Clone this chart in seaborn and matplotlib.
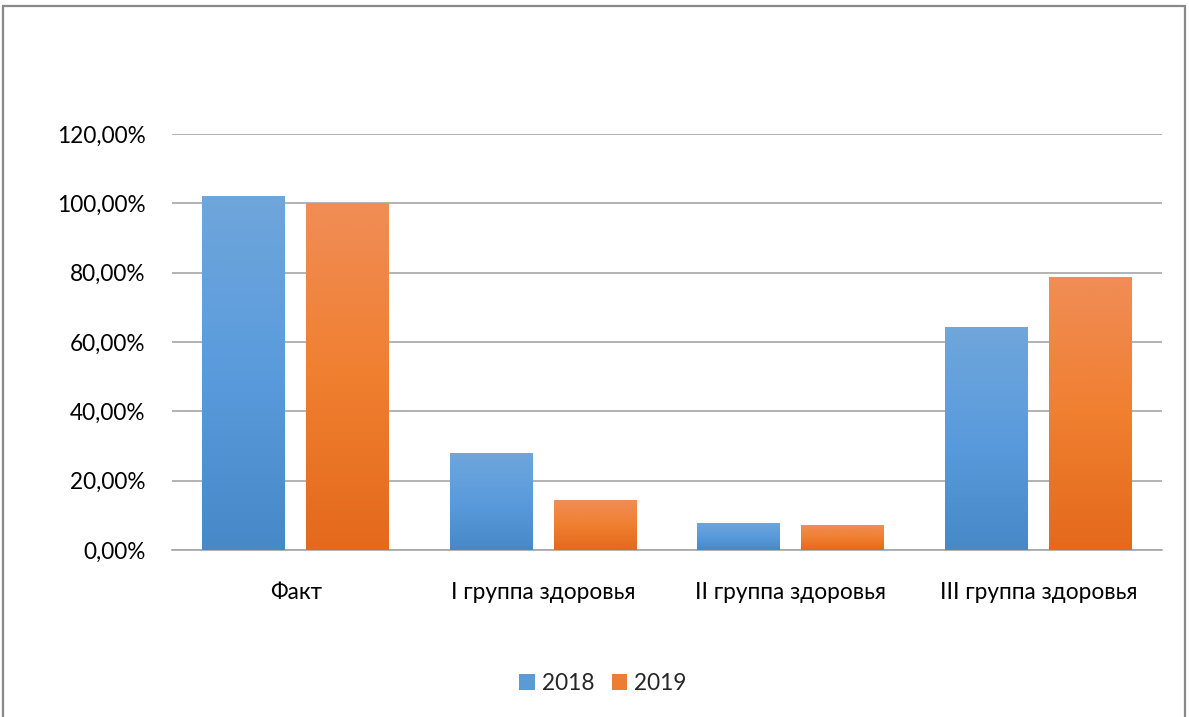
import numpy as np
import pandas as pd
import matplotlib
matplotlib.use("Agg")
import matplotlib.pyplot as plt
import seaborn as sns
from matplotlib.patches import Rectangle
from matplotlib.colors import LinearSegmentedColormap

categories = ["Факт", "I группа здоровья", "II группа здоровья", "III группа здоровья"]
years = ["2018", "2019"]
values_2018 = [102.0, 28.0, 7.8, 64.3]
values_2019 = [100.0, 14.4, 7.2, 78.7]
yticks = [0, 20, 40, 60, 80, 100, 120]
ytick_labels = ["0,00%", "20,00%", "40,00%", "60,00%", "80,00%", "100,00%", "120,00%"]

df = pd.DataFrame({
    "cat": categories * 2,
    "year": [years[0]] * 4 + [years[1]] * 4,
    "val": values_2018 + values_2019,
})

sns.set_theme(style="white")
plt.rcParams["font.family"] = ["Lato", "DejaVu Sans"]

fig = plt.figure(figsize=(11.89, 7.17), dpi=100)
ax = fig.add_axes([172 / 1189, 1 - 550 / 717, 990 / 1189, (550 - 134) / 717])

palette = {"2018": "#5B9BD5", "2019": "#ED7D31"}
sns.barplot(data=df, x="cat", y="val", hue="year", order=categories, hue_order=years,
            palette=palette, width=0.842, gap=0.204, ax=ax, zorder=3, legend=True,
            edgecolor="none", saturation=1)

# gradient overlay on bars
grads = {
    "2018": LinearSegmentedColormap.from_list("b", ["#6FA6DB", "#5A9BDD", "#4788C7"]),
    "2019": LinearSegmentedColormap.from_list("o", ["#F08D56", "#F07F30", "#E4691C"]),
}
for cont, yr in zip(ax.containers, years):
    for p in cont.patches:
        x0, y0 = p.get_x(), p.get_y()
        w, h = p.get_width(), p.get_height()
        grad = np.linspace(0, 1, 256).reshape(-1, 1)
        im = ax.imshow(grad, cmap=grads[yr], extent=[x0, x0 + w, y0, y0 + h],
                       aspect="auto", origin="upper", zorder=3.5, interpolation="bilinear")
        im.set_clip_path(p)

ax.set_xlim(-0.5, 3.5)
ax.set_ylim(0, 120)
ax.set_yticks(yticks)
ax.set_yticklabels(ytick_labels)
ax.yaxis.grid(True, color="#A6A6A6", linewidth=1.2, zorder=0)
ax.xaxis.grid(False)
ax.set_xlabel("")
ax.set_ylabel("")
for s in ["top", "right", "left"]:
    ax.spines[s].set_visible(False)
ax.spines["bottom"].set_color("#A6A6A6")
ax.spines["bottom"].set_linewidth(1.2)
ax.tick_params(axis="both", length=0, labelsize=16.3, colors="#000000")
ax.tick_params(axis="x", pad=23)
ax.tick_params(axis="y", pad=19)

handles, labels = ax.get_legend_handles_labels()
ax.legend(handles, labels, loc="center", bbox_to_anchor=((603 - 172) / 990, 1 - (683 - 134) / 416),
          ncol=2, frameon=False, fontsize=16.3, handlelength=0.7, handleheight=0.7,
          handletextpad=0.3, columnspacing=0.75)

fig.patches.append(Rectangle((3 / 1189, -0.1), (1185 - 3) / 1189, 1.1 - 6 / 717,
                             transform=fig.transFigure, fill=False, edgecolor="#898989",
                             linewidth=1.6))

fig.savefig("out.png", dpi=100, facecolor="white")
